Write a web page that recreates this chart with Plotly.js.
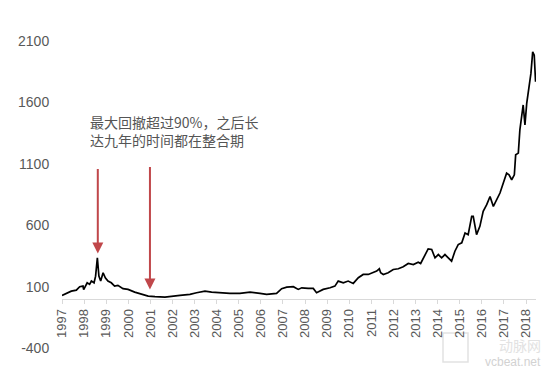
<!DOCTYPE html>
<html>
<head>
<meta charset="utf-8">
<script src="https://cdn.plot.ly/plotly-3.0.1.min.js"></script>
<style>html,body{margin:0;padding:0;background:#fff;}#chart{width:554px;height:372px;}</style>
</head>
<body>
<div id="chart"></div>
<script>
// decimal years and values
const years = [1997.00,1997.19,1997.42,1997.65,1997.80,1997.95,1997.98,1998.14,1998.25,1998.33,1998.45,1998.52,1998.60,1998.67,1998.75,1998.86,1998.96,1999.08,1999.23,1999.38,1999.53,1999.76,1999.99,2000.29,2000.61,2000.90,2001.21,2001.66,
  2002.34,2002.79,2003.09,2003.47,2003.77,2004.15,2004.60,2005.05,2005.51,2005.96,2006.26,2006.71,2006.94,2007.17,2007.47,2007.69,2007.85,2008.14,2008.37,2008.52,2008.82,
  2009.13,2009.35,2009.50,2009.73,2009.95,2010.18,2010.41,2010.63,2010.86,2011.09,2011.24,2011.36,2011.42,2011.54,2011.76,2011.99,2012.22,2012.44,2012.67,2012.90,2013.12,2013.23,2013.43,2013.57,2013.73,2013.88,
  2014.03,2014.18,2014.33,2014.48,2014.63,2014.78,2014.93,2015.09,2015.24,2015.38,2015.54,2015.61,2015.76,2015.91,2016.06,2016.22,2016.37,2016.52,2016.67,2016.82,2016.97,
  2017.12,2017.23,2017.35,2017.47,2017.53,2017.65,2017.72,2017.87,2017.95,2018.03,2018.13,2018.22,2018.30,2018.37,2018.43];
const prices = [28,45,63,71,99,104,75,131,118,145,131,185,334,185,145,213,172,145,131,104,110,83,77,55,37,23,18,15,
  28,37,50,63,55,50,45,45,55,45,37,45,83,96,99,77,90,85,85,50,77,
  91,104,145,131,145,126,172,199,199,213,226,245,213,199,213,239,245,261,288,280,299,288,361,407,402,334,
  361,334,361,334,307,388,442,456,537,523,672,672,523,591,713,767,834,753,808,862,943,
  1024,1010,970,1010,1173,1187,1376,1579,1416,1592,1714,1836,2011,1985,1769];
const yTicks = [-400,100,600,1100,1600,2100];
const xTicks = [1997,1998,1999,2000,2001,2002,2003,2004,2005,2006,2007,2008,2009,2010,2011,2012,2013,2014,2015,2016,2017,2018];
const noteText = "最大回撤超过90%，之后长<br>达九年的时间都在整合期";
const arrowPoints = [{x:1998.62, y:369}, {x:2000.98, y:77}];

const trace = {
  x: years, y: prices, type: 'scatter', mode: 'lines',
  line: {color: '#000000', width: 1.7}, hoverinfo: 'skip'
};

const red = '#c0474a';
const annotations = [
  {x: arrowPoints[0].x, y: arrowPoints[0].y, xref:'x', yref:'y', ax: 0, ay: -86, axref:'pixel', ayref:'pixel',
   showarrow: true, arrowhead: 2, arrowsize: 1.1, arrowwidth: 2, arrowcolor: red, text: ''},
  {x: arrowPoints[1].x, y: arrowPoints[1].y, xref:'x', yref:'y', ax: 0, ay: -124, axref:'pixel', ayref:'pixel',
   showarrow: true, arrowhead: 2, arrowsize: 1.1, arrowwidth: 2, arrowcolor: red, text: ''},
  {x: (88-62)/474, y: (348-131)/307, xref:'paper', yref:'paper', xanchor:'left', yanchor:'middle', align:'left',
   showarrow:false, text: noteText,
   font: {family: '"Noto Sans CJK SC", "Liberation Sans", Arial, sans-serif', size: 14, color: '#555555'}},
  {x: (542-62)/474, y: (348-362)/307, xref:'paper', yref:'paper', xanchor:'right', yanchor:'middle',
   showarrow:false, text: 'vcbeat.net', borderpad: 0,
   font: {family: '"Liberation Sans", Arial, sans-serif', size: 12, color: '#d2d2d2'}},
  {x: (542-62)/474, y: (348-345)/307, xref:'paper', yref:'paper', xanchor:'right', yanchor:'middle',
   showarrow:false, text: '动脉网', borderpad: 0,
   font: {family: '"Noto Sans CJK SC", sans-serif', size: 14, color: '#e2e2e2'}}
];

const shapes = [
  {type:'rect', xref:'paper', yref:'paper', x0:(443-62)/474, x1:(468-62)/474, y0:(348-362)/307, y1:(348-333)/307,
   line:{color:'#e2e2e2', width:1.5}, fillcolor:'rgba(0,0,0,0)', layer:'below'}
];

const layout = {
  width: 554, height: 372,
  margin: {l: 62, r: 18, t: 41, b: 24, pad: 0},
  paper_bgcolor: '#ffffff', plot_bgcolor: '#ffffff',
  showlegend: false,
  font: {family: '"Liberation Sans", Arial, sans-serif', color: '#595959', size: 14},
  xaxis: {
    range: [1997, 2018.45], tickmode: 'array', tickvals: xTicks, ticktext: xTicks.map(String),
    tickangle: -90, showgrid: false, zeroline: false, showline: true, linecolor: '#d9d9d9', linewidth: 1,
    ticks: 'outside', ticklen: 4, tickcolor: '#d9d9d9', anchor: 'free', position: 400/2500,
    tickfont: {size: 13, color: '#595959'}
  },
  yaxis: {
    range: [-400, 2100], tickmode: 'array', tickvals: yTicks, ticktext: yTicks.map(String),
    showgrid: false, zeroline: false, showline: false, ticks: 'outside', ticklen: 9, tickcolor: 'rgba(0,0,0,0)',
    tickfont: {size: 14, color: '#595959'}
  },
  shapes: shapes,
  annotations: annotations
};

Plotly.newPlot('chart', [trace], layout, {displayModeBar: false, staticPlot: true});
</script>
</body>
</html>
